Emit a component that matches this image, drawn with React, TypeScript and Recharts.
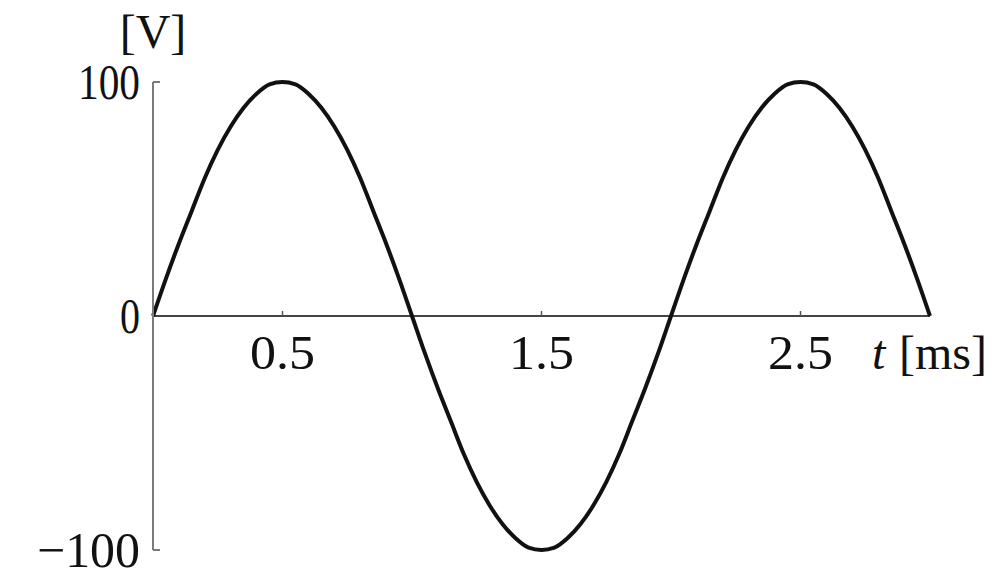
import React from 'react';
import { LineChart, Line, XAxis, YAxis, ReferenceLine } from 'recharts';

// time in ms, every 0.05 ms
const timeMs = [
  0, 0.05, 0.1, 0.15, 0.2, 0.25, 0.3, 0.35, 0.4, 0.45, 0.5, 0.55, 0.6, 0.65, 0.7, 0.75, 0.8, 0.85, 0.9, 0.95,
  1, 1.05, 1.1, 1.15, 1.2, 1.25, 1.3, 1.35, 1.4, 1.45, 1.5, 1.55, 1.6, 1.65, 1.7, 1.75, 1.8, 1.85, 1.9, 1.95,
  2, 2.05, 2.1, 2.15, 2.2, 2.25, 2.3, 2.35, 2.4, 2.45, 2.5, 2.55, 2.6, 2.65, 2.7, 2.75, 2.8, 2.85, 2.9, 2.95,
  3,
];

// voltage in V
const voltage = [
  0, 16, 31, 45, 59, 71, 81, 89, 95, 99, 100, 99, 95, 89, 81, 71, 59, 45, 31, 16,
  0, -16, -31, -45, -59, -71, -81, -89, -95, -99, -100, -99, -95, -89, -81, -71, -59, -45, -31, -16,
  0, 16, 31, 45, 59, 71, 81, 89, 95, 99, 100, 99, 95, 89, 81, 71, 59, 45, 31, 16,
  0,
];

const xTicks = [0.5, 1.5, 2.5];
const yTicks = [-100, 0, 100];

const data = timeMs.map((t, i) => ({ t, v: voltage[i] }));

const FONT = '"Liberation Serif", "DejaVu Serif", serif';
const PLOT_TOP = 82;
const PLOT_BOTTOM = 550;
const PLOT_LEFT = 153;
const PLOT_RIGHT = 930;
const ZERO_Y = (PLOT_TOP + PLOT_BOTTOM) / 2;
const X_AXIS_H = 30;
const X_LABEL_Y = ZERO_Y + 53;

const yLabelLength: Record<string, number> = { '100': 62, '0': 20, '-100': 103 };

const YTick = (props: any) => {
  const { x, y, payload } = props;
  const v = payload.value;
  const text = v < 0 ? `\u2212${Math.abs(v)}` : `${v}`;
  return (
    <g>
      {v !== 0 && <path d={`M${x},${y}H${x + 7}`} stroke="#7a7a7a" strokeWidth={2} />}
      <text
        x={x - 13}
        y={y + 17}
        textAnchor="end"
        fontSize={50}
        fontFamily={FONT}
        fill="#111"
        textLength={yLabelLength[String(v)]}
        lengthAdjust="spacingAndGlyphs"
      >
        {text}
      </text>
    </g>
  );
};

const XTick = (props: any) => {
  const { x, payload } = props;
  return (
    <g>
      <path d={`M${x},${ZERO_Y}V${ZERO_Y - 5}`} stroke="#555" strokeWidth={1.5} />
      <text
        x={x}
        y={X_LABEL_Y}
        textAnchor="middle"
        fontSize={49}
        fontFamily={FONT}
        fill="#111"
        textLength={65}
        lengthAdjust="spacingAndGlyphs"
      >
        {payload.value}
      </text>
    </g>
  );
};

const UnitV = () => (
  <text x={PLOT_LEFT} y={48} textAnchor="middle" fontSize={48} fontFamily={FONT} fill="#111">
    [V]
  </text>
);

const UnitT = () => (
  <g fontFamily={FONT} fill="#111" fontSize={48}>
    <text x={PLOT_RIGHT - 58} y={X_LABEL_Y} fontStyle="italic">
      t
    </text>
    <text x={PLOT_RIGHT - 31} y={X_LABEL_Y} textLength={88} lengthAdjust="spacing">
      [ms]
    </text>
  </g>
);

export default function App() {
  return (
    <div style={{ position: 'absolute', left: 0, top: 0, width: 1000, height: 588, background: '#fff' }}>
      <LineChart
        width={1000}
        height={588}
        data={data}
        margin={{ top: PLOT_TOP, right: 1000 - PLOT_RIGHT, bottom: 588 - PLOT_BOTTOM - X_AXIS_H, left: 0 }}
      >
        <XAxis
          dataKey="t"
          type="number"
          domain={[0, 3]}
          ticks={xTicks}
          interval={0}
          height={X_AXIS_H}
          axisLine={false}
          tickLine={false}
          tickSize={0}
          tickMargin={0}
          tick={<XTick />}
        />
        <YAxis
          type="number"
          domain={[-100, 100]}
          ticks={yTicks}
          interval={0}
          width={PLOT_LEFT}
          axisLine={{ stroke: '#7a7a7a', strokeWidth: 2 }}
          tickLine={false}
          tickSize={0}
          tickMargin={0}
          tick={<YTick />}
          label={<UnitV />}
        />
        <ReferenceLine y={0} stroke="#444" strokeWidth={2} label={<UnitT />} />
        <Line
          type="monotone"
          dataKey="v"
          stroke="#111"
          strokeWidth={4}
          dot={false}
          isAnimationActive={false}
        />
      </LineChart>
    </div>
  );
}
